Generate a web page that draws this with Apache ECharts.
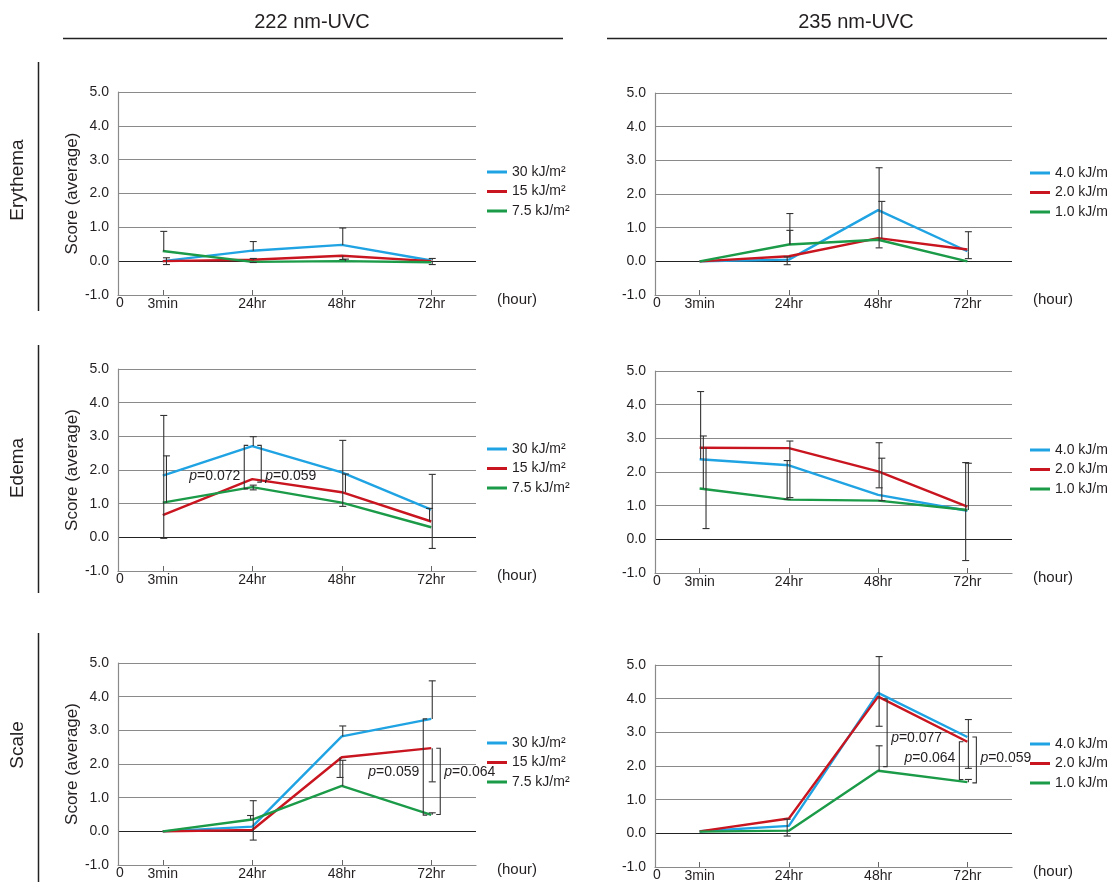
<!DOCTYPE html>
<html><head><meta charset="utf-8">
<script src="https://cdn.jsdelivr.net/npm/echarts@6/dist/echarts.min.js"></script>
<style>html,body{margin:0;padding:0;background:#fff}#c{width:1107px;height:884px}</style>
</head><body><div id="c"></div>
<script>
// ---------- data ----------
const categories = ['3min', '24hr', '48hr', '72hr'];
const doses222 = ['30 kJ/m²', '15 kJ/m²', '7.5 kJ/m²'];
const doses235 = ['4.0 kJ/m²', '2.0 kJ/m²', '1.0 kJ/m²'];
const columnTitles = ['222 nm-UVC', '235 nm-UVC'];
const rowTitles = ['Erythema', 'Edema', 'Scale'];
const yAxisName = 'Score (average)';
const xAxisName = '(hour)';

// Erythema
const ery222_30 = [0.0, 0.31, 0.48, 0.02];
const ery222_15 = [0.0, 0.04, 0.16, 0.0];
const ery222_75 = [0.3, -0.02, 0.0, -0.03];
const ery235_40 = [0.0, 0.05, 1.52, 0.3];
const ery235_20 = [0.0, 0.15, 0.69, 0.35];
const ery235_10 = [0.0, 0.5, 0.64, 0.0];
// Edema
const ede222_30 = [1.83, 2.71, 1.93, 0.82];
const ede222_15 = [0.66, 1.73, 1.34, 0.47];
const ede222_75 = [1.03, 1.49, 1.03, 0.3];
const ede235_40 = [2.38, 2.2, 1.32, 0.85];
const ede235_20 = [2.72, 2.71, 2.02, 0.97];
const ede235_10 = [1.51, 1.18, 1.15, 0.87];
// Scale
const sca222_30 = [0.0, 0.14, 2.82, 3.34];
const sca222_15 = [0.0, 0.04, 2.2, 2.47];
const sca222_75 = [0.0, 0.35, 1.35, 0.49];
const sca235_40 = [0.06, 0.22, 4.17, 2.86];
const sca235_20 = [0.06, 0.44, 4.06, 2.72];
const sca235_10 = [0.05, 0.08, 1.86, 1.52];

// error bars: [category, from value, to value (capped end), slot]
const errEry222 = [[0,0.3,0.88,0],[0,0.0,0.1,1],[0,0.0,-0.1,1],[1,0.31,0.58,0],[1,0.04,0.08,0],[1,-0.02,-0.04,0],
  [2,0.48,0.98,0],[2,0.16,0.05,0],[2,0.0,0.06,1],[3,0.02,0.08,0],[3,0.0,-0.1,0]];
const errEry235 = [[1,0.5,1.42,0],[1,0.5,0.92,0],[1,0.1,0.13,-1],[1,0.1,-0.1,-1],
  [2,1.52,2.78,0],[2,1.52,0.4,0],[2,0.68,1.78,1],[3,0.3,0.88,0],[3,0.3,0.08,0]];
const errEde222 = [[0,1.83,3.62,0],[0,1.83,-0.03,0],[0,1.03,2.42,1],[1,2.71,2.99,0],[1,1.49,1.55,0],[1,1.49,1.41,0],
  [2,1.93,2.88,0],[2,1.93,0.92,0],[2,1.34,1.88,1],[3,0.82,1.87,0],[3,0.82,-0.33,0],[3,0.47,0.86,-1]];
const errEde235 = [[0,2.38,4.39,0],[0,1.51,3.07,1],[0,2.72,0.32,2],[1,2.2,2.34,-1],[1,2.2,1.19,-1],[1,2.71,2.92,0],[1,2.71,1.24,0],
  [2,2.02,2.87,0],[2,2.02,1.53,0],[2,1.32,2.41,1],[2,1.32,1.15,1],[3,0.97,2.28,-1],[3,0.97,-0.63,-1],[3,0.87,2.26,0]];
const errSca222 = [[1,0.14,0.91,0],[1,0.14,-0.26,0],[1,0.35,0.47,-1],[2,2.82,3.13,0],[2,2.2,1.6,-1],[2,1.35,2.11,0],
  [3,3.34,4.47,0],[3,2.47,1.47,0],[3,0.49,0.55,0]];
const errSca235 = [[1,0.22,0.42,-1],[1,0.22,-0.08,-1],[2,4.17,5.25,0],[2,4.17,3.18,0],[2,1.86,2.6,0],
  [3,2.86,3.38,0],[3,2.86,1.93,0],[3,1.52,1.6,0]];

// significance brackets: [category, top value, bottom value, side(-1 left/1 right), label value]
const brkEde222 = [[1,2.73,1.44,-1,1.83],[1,2.73,1.64,1,1.83]];
const brkEde222Labels = ['0.072', '0.059'];
const brkSca222 = [[3,3.34,0.48,-1,1.75],[3,2.47,0.5,1,1.75]];
const brkSca222Labels = ['0.059', '0.064'];
const brkSca235 = [[2,3.99,1.98,1,2.82],[3,2.72,1.6,-1,2.24],[3,2.86,1.5,1,2.24]];
const brkSca235Labels = ['0.077', '0.064', '0.059'];

// ---------- styling ----------
const FONT = '"Liberation Sans", Arial, sans-serif';
const TXT = '#231f20';
const COLORS = ['#1fa3e3', '#c8151f', '#1b9a48'];
const GRIDS = [
  {left:118, top:92, width:358, height:203},
  {left:655, top:93, width:357, height:202},
  {left:118, top:369, width:358, height:202},
  {left:655, top:371, width:357, height:202},
  {left:118, top:663, width:358, height:202},
  {left:655, top:665, width:357, height:202}
];
const panels = [
  {names:doses222, vals:[ery222_30, ery222_15, ery222_75], err:errEry222},
  {names:doses235, vals:[ery235_40, ery235_20, ery235_10], err:errEry235},
  {names:doses222, vals:[ede222_30, ede222_15, ede222_75], err:errEde222, brk:brkEde222, brkL:brkEde222Labels},
  {names:doses235, vals:[ede235_40, ede235_20, ede235_10], err:errEde235},
  {names:doses222, vals:[sca222_30, sca222_15, sca222_75], err:errSca222, brk:brkSca222, brkL:brkSca222Labels},
  {names:doses235, vals:[sca235_40, sca235_20, sca235_10], err:errSca235, brk:brkSca235, brkL:brkSca235Labels}
];
const legendCenters = [172, 173, 449, 450, 743, 744];

function errRender(params, api) {
  const cat = api.value(0), from = api.value(1), to = api.value(2), slot = api.value(3);
  const p1 = api.coord([cat, from]), p2 = api.coord([cat, to]);
  const x = p1[0] + 1 + slot * 2.7;
  const st = {stroke:'#333', lineWidth:1.1};
  return {type:'group', children:[
    {type:'line', shape:{x1:x, y1:p1[1], x2:x, y2:p2[1]}, style:st},
    {type:'line', shape:{x1:x-3.5, y1:p2[1], x2:x+3.5, y2:p2[1]}, style:st}
  ]};
}
function makeBrkRender(labels) {
  return function(params, api) {
    const cat = api.value(0), y1 = api.value(1), y2 = api.value(2), side = api.value(3), ly = api.value(4);
    const c1 = api.coord([cat, y1]), c2 = api.coord([cat, y2]), cl = api.coord([cat, ly]);
    const x = c1[0] + (side < 0 ? -8 : 9);
    const t = side < 0 ? 4 : -4;
    return {type:'group', children:[
      {type:'polyline', shape:{points:[[x+t, c1[1]], [x, c1[1]], [x, c2[1]], [x+t, c2[1]]]},
        style:{stroke:'#333', lineWidth:1.1, fill:null}},
      {type:'text', x: side < 0 ? x - 4 : x + 4, y: cl[1],
        style:{text:'{i|p}{n|=' + labels[params.dataIndex] + '}',
          rich:{i:{fontStyle:'italic', fontSize:14, fontFamily:FONT, fill:TXT},
                n:{fontSize:14, fontFamily:FONT, fill:TXT}},
          align: side < 0 ? 'right' : 'left', verticalAlign:'middle'}}
    ]};
  };
}

const option = {
  animation:false,
  backgroundColor:'#fff',
  grid:[], xAxis:[], yAxis:[], series:[], legend:[], graphic:[]
};

panels.forEach((p, i) => {
  const g = GRIDS[i];
  const isLeft = i % 2 === 0;
  option.grid.push(Object.assign({containLabel:false}, g));
  option.xAxis.push({
    type:'category', gridIndex:i, data:categories, boundaryGap:true, position:'bottom',
    axisLine:{show:true, onZero:false, lineStyle:{color:'#8a8a8a', width:1.2}},
    axisTick:{show:true, alignWithLabel:true, inside:true, length:5, lineStyle:{color:'#666'}},
    axisLabel:{margin:2, fontSize:14, fontFamily:FONT, color:TXT},
    splitLine:{show:false},
    name:xAxisName, nameLocation:'end', nameGap:21,
    nameTextStyle:{fontSize:15, fontFamily:FONT, color:TXT, align:'left', verticalAlign:'top', lineHeight:10}
  });
  option.yAxis.push({
    type:'value', gridIndex:i, min:-1, max:5, interval:1,
    axisLine:{show:true, lineStyle:{color:'#8a8a8a', width:1.2}},
    axisTick:{show:false},
    axisLabel:{margin:9, fontSize:14, fontFamily:FONT, color:TXT, formatter:v => v.toFixed(1)},
    splitLine:{show:true, lineStyle:{width:1.2, color:['#8a8a8a','#222','#8a8a8a','#8a8a8a','#8a8a8a','#8a8a8a','#8a8a8a']}},
    name: isLeft ? yAxisName : '', nameLocation:'middle', nameGap:36, nameRotate:90,
    nameTextStyle:{fontSize:17, fontFamily:FONT, color:TXT}
  });
  p.vals.forEach((v, k) => {
    option.series.push({
      type:'line', name:p.names[k], xAxisIndex:i, yAxisIndex:i, data:v,
      symbol:'none', lineStyle:{width:2.4, color:COLORS[k]}, itemStyle:{color:COLORS[k]},
      z:2, silent:true
    });
  });
  option.series.push({
    type:'custom', xAxisIndex:i, yAxisIndex:i, data:p.err, renderItem:errRender,
    encode:{x:0, y:[1,2]}, z:5, silent:true
  });
  if (p.brk) {
    option.series.push({
      type:'custom', xAxisIndex:i, yAxisIndex:i, data:p.brk, renderItem:makeBrkRender(p.brkL),
      encode:{x:0, y:[1,2]}, z:6, silent:true
    });
  }
  option.legend.push({
    data:p.names, orient:'vertical', left: isLeft ? 487 : 1030, top: legendCenters[i] - 8, padding:0,
    icon:'rect', itemWidth:20, itemHeight:3, itemGap:3.5,
    textStyle:{fontSize:14, fontFamily:FONT, color:TXT, lineHeight:16}
  });
  option.graphic.push({type:'text', x:g.left + 2, y:g.top + g.height + 8,
    style:{text:'0', font:'14px ' + FONT, fill:TXT, align:'center', verticalAlign:'middle'}});
});

// column titles and separators
const colCenters = [312, 856];
const colLines = [[63, 563], [607, 1107]];
columnTitles.forEach((t, i) => {
  option.graphic.push({type:'text', x:colCenters[i], y:22,
    style:{text:t, font:'20px ' + FONT, fill:TXT, align:'center', verticalAlign:'middle'}});
  option.graphic.push({type:'line', shape:{x1:colLines[i][0], y1:38.5, x2:colLines[i][1], y2:38.5},
    style:{stroke:'#222', lineWidth:1.5}});
});
// row titles and separators
const rowCenters = [180, 468, 745];
const rowLines = [[62, 311], [345, 593], [633, 882]];
rowTitles.forEach((t, i) => {
  option.graphic.push({type:'text', x:18, y:rowCenters[i], rotation:Math.PI/2,
    style:{text:t, font:'19px ' + FONT, fill:TXT, align:'center', verticalAlign:'middle'}});
  option.graphic.push({type:'line', shape:{x1:38.5, y1:rowLines[i][0], x2:38.5, y2:rowLines[i][1]},
    style:{stroke:'#222', lineWidth:1.5}});
});

const chart = echarts.init(document.getElementById('c'), null, {renderer:'canvas'});
chart.setOption(option);
</script>
</body></html>
